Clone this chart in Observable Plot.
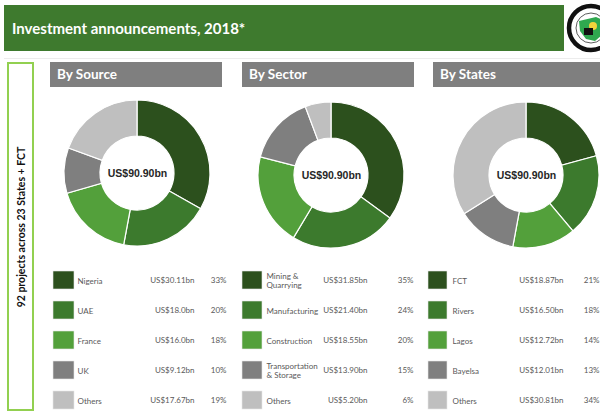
<!DOCTYPE html>
<html><head><meta charset="utf-8">
<script src="https://cdn.jsdelivr.net/npm/d3@7"></script>
<script src="https://cdn.jsdelivr.net/npm/@observablehq/plot@0.6"></script>
<style>
body{margin:0;background:#fff;}
#page{position:relative;width:600px;height:413px;overflow:hidden;font-family:Lato,"Open Sans",sans-serif;background:#fff;}
.banner{position:absolute;left:4px;top:5px;width:560px;height:46px;background:#3e7a2e;color:#fff;font-weight:700;font-size:15px;line-height:46px;padding-left:8px;box-sizing:border-box;}
.rule{position:absolute;left:4px;top:58px;width:596px;height:1px;background:#ececec;}
.hdr{position:absolute;top:62px;height:25px;background:#7f7f7f;color:#fff;font-weight:700;font-size:13.5px;line-height:25px;padding-left:7px;box-sizing:border-box;}
.side{position:absolute;left:7px;top:62px;width:27px;height:349px;border:2px solid #92d050;box-sizing:border-box;}
.sidetxt{position:absolute;left:21px;top:227px;transform:translate(-50%,-50%) rotate(-90deg);white-space:nowrap;font-weight:700;font-size:10.5px;color:#111;}
.panel{position:absolute;top:88px;}
.logo{position:absolute;left:566px;top:3px;}
</style>
</head>
<body>
<div id="page">
  <div class="banner">Investment announcements, 2018*</div>
  <svg class="logo" width="50" height="52" viewBox="0 0 50 52">
    <circle cx="25" cy="25" r="22" fill="#fff" stroke="#111" stroke-width="4.5"/>
    <circle cx="25" cy="25" r="15" fill="#fff" stroke="#333" stroke-width="0.8"/>
    <path d="M13 18 L30 14 L39 18 L37 31 L29 38 L20 36 L14 28 Z" fill="#2fa84f"/>
    <circle cx="27" cy="23" r="4" fill="#f2d33b"/>
    <rect x="18" y="25" width="9" height="7" fill="#111"/>
  </svg>
  <div class="rule"></div>
  <div class="side"></div>
  <div class="sidetxt">92 projects across 23 States + FCT</div>
  <div class="hdr" style="left:50px;width:172px;">By Source</div>
  <div class="hdr" style="left:242px;width:172px;">By Sector</div>
  <div class="hdr" style="left:433px;width:167px;">By States</div>
  <div class="panel" id="p1" style="left:50px;width:180px;"></div>
  <div class="panel" id="p2" style="left:242px;width:180px;"></div>
  <div class="panel" id="p3" style="left:428px;width:172px;"></div>
</div>
<script>
// ---- Data ----
const totalLabel = "US$90.90bn";
const palette = ["#2c501d", "#3c7a2d", "#53a03b", "#7f7f7f", "#bfbfbf"];

const sourceNames = ["Nigeria", "UAE", "France", "UK", "Others"];
const sourceValues = [30.11, 18.0, 16.0, 9.12, 17.67];
const sourceValueLabels = ["US$30.11bn", "US$18.0bn", "US$16.0bn", "US$9.12bn", "US$17.67bn"];
const sourceShares = ["33%", "20%", "18%", "10%", "19%"];

const sectorNames = ["Mining &\nQuarrying", "Manufacturing", "Construction", "Transportation\n& Storage", "Others"];
const sectorValues = [31.85, 21.40, 18.55, 13.90, 5.20];
const sectorValueLabels = ["US$31.85bn", "US$21.40bn", "US$18.55bn", "US$13.90bn", "US$5.20bn"];
const sectorShares = ["35%", "24%", "20%", "15%", "6%"];

const stateNames = ["FCT", "Rivers", "Lagos", "Bayelsa", "Others"];
const stateValues = [18.87, 16.50, 12.72, 12.01, 30.81];
const stateValueLabels = ["US$18.87bn", "US$16.50bn", "US$12.72bn", "US$12.01bn", "US$30.81bn"];
const stateShares = ["21%", "18%", "14%", "13%", "34%"];

// ---- Drawing ----
function panel(names, values, valueLabels, shares, lay) {
  const data = names.map((name, i) => ({name, value: values[i], valueLabel: valueLabels[i], share: shares[i]}));
  const H = 325;
  const rowTop = 177;
  const donut = (index, scales) => {
    const g = d3.create("svg:g").attr("transform", `translate(${lay.cx},${lay.cy})`);
    const arcs = d3.pie().sort(null).value(d => d.value)(data);
    const arc = d3.arc().innerRadius(37).outerRadius(73);
    g.selectAll("path").data(arcs).join("path")
      .attr("d", arc)
      .attr("fill", d => scales.color(d.data.name))
      .attr("stroke", "#fff")
      .attr("stroke-width", 1.2);
    return g.node();
  };
  return Plot.plot({
    width: lay.width, height: H,
    marginLeft: 0, marginRight: 0, marginTop: 0, marginBottom: 0,
    x: {domain: [0, lay.width], range: [0, lay.width], axis: null},
    y: {type: "band", domain: names, range: [rowTop, rowTop + 150], paddingInner: 0.4, paddingOuter: 0.2, axis: null},
    color: {domain: names, range: palette},
    style: {fontFamily: "Lato, 'Open Sans', sans-serif", fontSize: "8px", background: "transparent", overflow: "visible"},
    marks: [
      donut,
      Plot.text([totalLabel], {frameAnchor: "top-left", textAnchor: "middle", lineAnchor: "middle", dx: lay.cx, dy: lay.cy, text: d => d,
        fontWeight: "bold", fontSize: 10.5, fill: "#262626", fontFamily: "Arial, 'Liberation Sans', sans-serif"}),
      Plot.barX(data, {y: "name", x1: lay.sw0, x2: lay.sw1, fill: "name", stroke: "#e6e6e6", strokeWidth: 0.6}),
      Plot.text(data, {y: "name", x: lay.label, text: "name", textAnchor: "start", fill: "#595959", lineHeight: 1.2}),
      Plot.text(data, {y: "name", x: lay.value, text: "valueLabel", textAnchor: "end", fill: "#595959"}),
      Plot.text(data, {y: "name", x: lay.pct, text: "share", textAnchor: "end", fill: "#595959"})
    ]
  });
}

document.getElementById("p1").append(panel(sourceNames, sourceValues, sourceValueLabels, sourceShares,
  {width: 180, cx: 87, cy: 85, sw0: 3, sw1: 24, label: 27, value: 144, pct: 176}));
document.getElementById("p2").append(panel(sectorNames, sectorValues, sectorValueLabels, sectorShares,
  {width: 180, cx: 89, cy: 87, sw0: 0, sw1: 20, label: 24, value: 125, pct: 171}));
document.getElementById("p3").append(panel(stateNames, stateValues, stateValueLabels, stateShares,
  {width: 172, cx: 98, cy: 87, sw0: 0, sw1: 19, label: 24, value: 135, pct: 171}));
</script>
</body></html>
